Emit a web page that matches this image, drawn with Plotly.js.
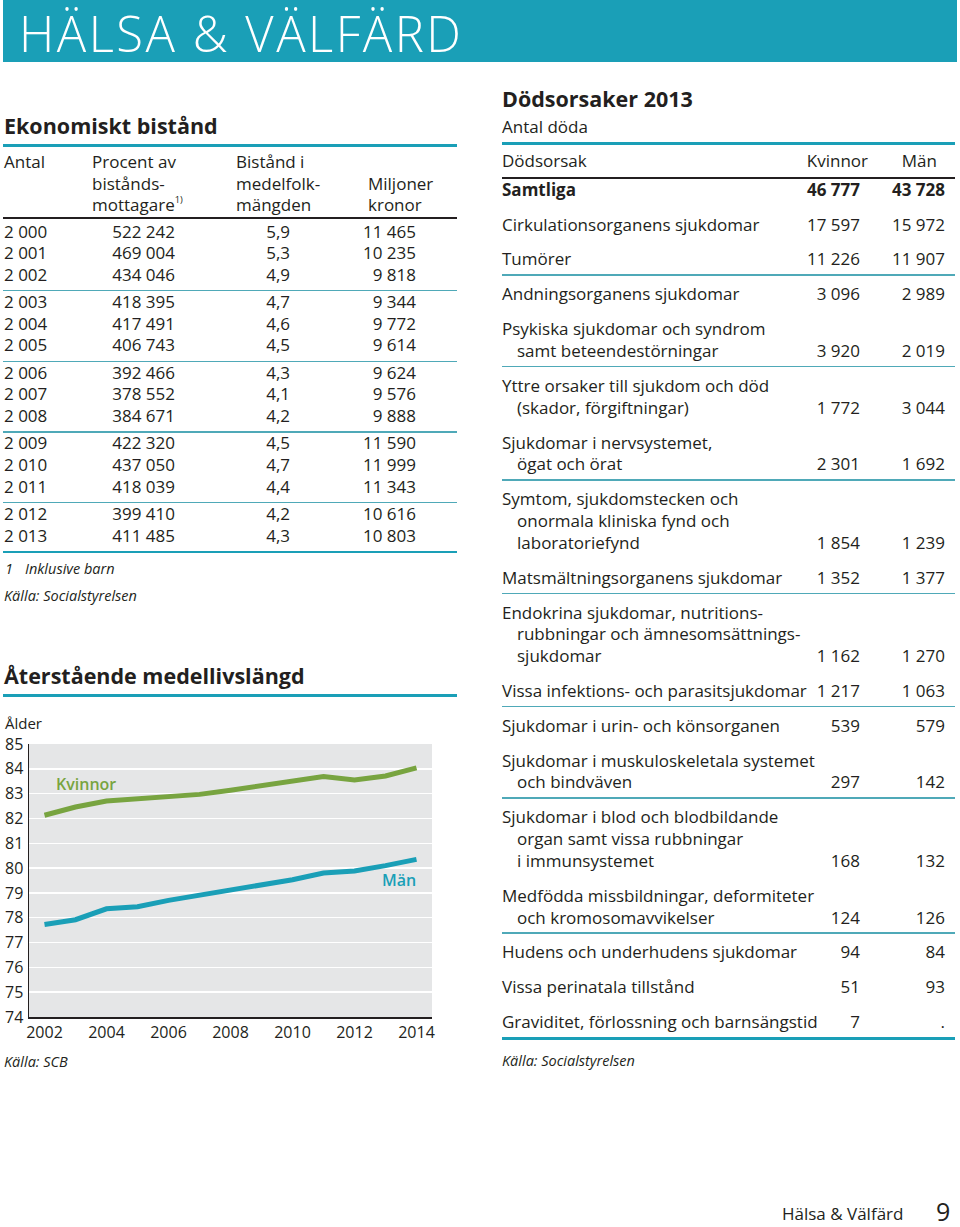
<!DOCTYPE html>
<html><head><meta charset="utf-8">
<script src="https://cdn.plot.ly/plotly-3.0.1.min.js"></script>
<style>
html,body{margin:0;padding:0;}
body{width:960px;height:1227px;position:relative;background:#fff;font-family:"Open Sans",sans-serif;color:#231f20;overflow:hidden}
.t{position:absolute;white-space:nowrap;line-height:1;}
.r{position:absolute;}
sup{font-size:55%;vertical-align:top;position:relative;top:-1px}
</style></head><body>
<div id="chart" style="position:absolute;left:0;top:700px;width:470px;height:390px"></div>
<script>
// ---------- DATA ----------
// Ekonomiskt bistånd
const ekYears = [2000,2001,2002,2003,2004,2005,2006,2007,2008,2009,2010,2011,2012,2013];
const ekProcent = [522242,469004,434046,418395,417491,406743,392466,378552,384671,422320,437050,418039,399410,411485];
const ekBistand = [5.9,5.3,4.9,4.7,4.6,4.5,4.3,4.1,4.2,4.5,4.7,4.4,4.2,4.3];
const ekMiljoner = [11465,10235,9818,9344,9772,9614,9624,9576,9888,11590,11999,11343,10616,10803];

// Återstående medellivslängd
const lifeYears = [2002,2003,2004,2005,2006,2007,2008,2009,2010,2011,2012,2013,2014];
const lifeKvinnor = [82.13,82.46,82.70,82.79,82.93,82.97,83.14,83.33,83.50,83.69,83.55,83.71,84.04];
const lifeMan = [77.73,77.92,78.36,78.44,78.70,78.90,79.10,79.33,79.53,79.80,79.88,80.10,80.35];
const yTicks = [74,75,76,77,78,79,80,81,82,83,84,85];
const xTicks = [2002,2004,2006,2008,2010,2012,2014];

// Dödsorsaker 2013
const causes = [
 ["Samtliga"],
 ["Cirkulationsorganens sjukdomar"],
 ["Tumörer"],
 ["Andningsorganens sjukdomar"],
 ["Psykiska sjukdomar och syndrom","samt beteendestörningar"],
 ["Yttre orsaker till sjukdom och död","(skador, förgiftningar)"],
 ["Sjukdomar i nervsystemet,","ögat och örat"],
 ["Symtom, sjukdomstecken och","onormala kliniska fynd och","laboratoriefynd"],
 ["Matsmältningsorganens sjukdomar"],
 ["Endokrina sjukdomar, nutritions-","rubbningar och ämnesomsättnings-","sjukdomar"],
 ["Vissa infektions- och parasitsjukdomar"],
 ["Sjukdomar i urin- och könsorganen"],
 ["Sjukdomar i muskuloskeletala systemet","och bindväven"],
 ["Sjukdomar i blod och blodbildande","organ samt vissa rubbningar","i immunsystemet"],
 ["Medfödda missbildningar, deformiteter","och kromosomavvikelser"],
 ["Hudens och underhudens sjukdomar"],
 ["Vissa perinatala tillstånd"],
 ["Graviditet, förlossning och barnsängstid"]
];
const deathKvinnor = [46777,17597,11226,3096,3920,1772,2301,1854,1352,1162,1217,539,297,168,124,94,51,7];
const deathMan = [43728,15972,11907,2989,2019,3044,1692,1239,1377,1270,1063,579,142,132,126,84,93,null];

// ---------- STYLE ----------
const TEAL = '#1a9fb7', TEAL_LIGHT = '#4fa9b8', GREEN = '#78a440', INK = '#231f20';

function fmt(n){ if(n===null) return '.'; return String(n).replace(/\B(?=(\d{3})+(?!\d))/g,' '); }
function dec(n){ return n.toFixed(1).replace('.',','); }

function T(str, x, y, o){
  o = o||{};
  const d = document.createElement('div');
  d.className = 't';
  const fs = o.fs||17;
  d.style.fontSize = fs+'px';
  d.style.left = x+'px';
  d.style.top = (y - 0.55*fs)+'px';
  if (o.b) d.style.fontWeight = o.b;
  if (o.i) d.style.fontStyle = 'italic';
  if (o.c) d.style.color = o.c;
  if (o.ls) d.style.letterSpacing = o.ls+'px';
  if (o.al==='r') d.style.transform = 'translateX(-100%)';
  if (o.al==='c') d.style.transform = 'translateX(-50%)';
  if (o.html) d.innerHTML = str; else d.textContent = str;
  document.body.appendChild(d);
  return d;
}
function R(x1, x2, y, th, col){
  const d = document.createElement('div');
  d.className = 'r';
  d.style.left = x1+'px'; d.style.width = (x2-x1)+'px';
  d.style.top = (y - th/2)+'px'; d.style.height = th+'px';
  d.style.background = col;
  document.body.appendChild(d);
}

// ---------- HEADER ----------
(function(){
  const b = document.createElement('div');
  b.className='r'; b.style.left='3px'; b.style.top='0px'; b.style.width='954px'; b.style.height='62px'; b.style.background=TEAL;
  document.body.appendChild(b);
  T('HÄLSA & VÄLFÄRD', 19, 35.5, {fs:49, b:300, c:'#fff', ls:2.5});
})();

// ---------- EKONOMISKT BISTÅND ----------
T('Ekonomiskt bistånd', 4, 126.5, {fs:21.5, b:700});
R(3, 457, 145, 3, TEAL);
T('Antal', 4, 162.5);
T('Procent av', 92, 162.5); T('bistånds-', 92, 184); T('mottagare<sup>1)</sup>', 92, 205, {html:true});
T('Bistånd i', 236, 162.5); T('medelfolk-', 236, 184); T('mängden', 236, 205);
T('Miljoner', 368, 184); T('kronor', 368, 205);
R(3, 457, 218, 1.5, INK);
ekYears.forEach((yr,i)=>{
  const g = Math.floor(i/3), k = i%3;
  const y = 232 + g*70.6 + k*21.6;
  T(fmt(yr), 4, y);
  T(fmt(ekProcent[i]), 175, y, {al:'r'});
  T(dec(ekBistand[i]), 290, y, {al:'r'});
  T(fmt(ekMiljoner[i]), 416, y, {al:'r'});
  if (k===2) R(3, 457, y+15.5, 1.5, TEAL_LIGHT);
  if (i===ekYears.length-1) R(3, 457, y+16, 2.5, TEAL);
});
T('1', 5, 570, {fs:14.5, i:true}); T('Inklusive barn', 25, 570, {fs:14.5, i:true});
T('Källa: Socialstyrelsen', 4, 597, {fs:14.5, i:true});

// ---------- ÅTERSTÅENDE MEDELLIVSLÄNGD ----------
T('Återstående medellivslängd', 4, 677, {fs:21.5, b:700});
R(3, 457, 695, 3, TEAL);
T('Källa: SCB', 4, 1063, {fs:14.5, i:true});

// ---------- DÖDSORSAKER ----------
T('Dödsorsaker 2013', 502, 100, {fs:21.5, b:700});
T('Antal döda', 502, 127, {fs:17});
R(502, 955, 143.5, 3, TEAL);
T('Dödsorsak', 502, 161.7);
T('Kvinnor', 868, 161.7, {al:'r'});
T('Män', 937, 161.7, {al:'r'});
R(502, 955, 178, 1.5, INK);
(function(){
  const ruleAfter = [2,4,6,8,10,12,14];
  let y = 190;
  causes.forEach((lines,i)=>{
    const bold = i===0 ? 700 : null;
    lines.forEach((ln,j)=>{
      T(ln, j===0?502:517, y + j*21.75, {b:bold});
    });
    const last = y + (lines.length-1)*21.75;
    T(fmt(deathKvinnor[i]), 860, last, {al:'r', b:bold});
    T(fmt(deathMan[i]), 945, last, {al:'r', b:bold});
    if (ruleAfter.includes(i)) R(502, 955, last+15.3, 1.5, TEAL_LIGHT);
    if (i===causes.length-1) R(502, 955, last+16, 2.5, TEAL);
    y = last + 34.9;
  });
})();
T('Källa: Socialstyrelsen', 502, 1062, {fs:14.5, i:true});

// ---------- FOOTER ----------
T('Hälsa & Välfärd', 782, 1214, {fs:17});
T('9', 936, 1213, {fs:25});

// ---------- CHART ----------
const W = 470, H = 390, L = 29, Rm = 38, Tm = 44, Bm = 73;
const pw = W-L-Rm, ph = H-Tm-Bm;
Plotly.newPlot('chart', [
  {x: lifeYears, y: lifeKvinnor, name:'Kvinnor', type:'scatter', mode:'lines',
   line:{color:GREEN, width:5}, hoverinfo:'skip'},
  {x: lifeYears, y: lifeMan, name:'Män', type:'scatter', mode:'lines',
   line:{color:TEAL, width:5}, hoverinfo:'skip'}
], {
  width: W, height: H,
  margin: {l:L, r:Rm, t:Tm, b:Bm, pad:0},
  paper_bgcolor: 'rgba(0,0,0,0)',
  plot_bgcolor: '#e5e6e7',
  showlegend: false,
  font: {family:'"Open Sans", sans-serif', size:16, color:INK},
  xaxis: {range:[2001.5,2014.5], tickvals: xTicks, ticktext: xTicks.map(String),
          showgrid:false, zeroline:false, showline:true, linecolor:INK, linewidth:1.5,
          ticks:'', fixedrange:true, tickfont:{size:16, color:INK}},
  yaxis: {range:[74,85], tickvals: yTicks, ticktext: yTicks.map(String),
          showgrid:true, gridcolor:'#ffffff', gridwidth:1.5, zeroline:false,
          showline:true, linecolor:INK, linewidth:1.5, ticks:'', ticklabelstandoff:1,
          fixedrange:true, tickfont:{size:16, color:INK}},
  annotations: [
    {text:'Ålder', xref:'paper', yref:'paper', x:(4-L)/pw, y:(H-Bm-(734-700))/ph, xanchor:'left', yanchor:'bottom',
     showarrow:false, font:{size:15, color:INK}, borderpad:0},
    {text:'Kvinnor', x:2003.35, y:83.38, xref:'x', yref:'y', showarrow:false,
     font:{size:16, color:GREEN, weight:600}},
    {text:'Män', x:2013.45, y:79.51, xref:'x', yref:'y', showarrow:false,
     font:{size:16, color:TEAL, weight:600}}
  ]
}, {displayModeBar:false, staticPlot:true});
</script>
</body></html>
